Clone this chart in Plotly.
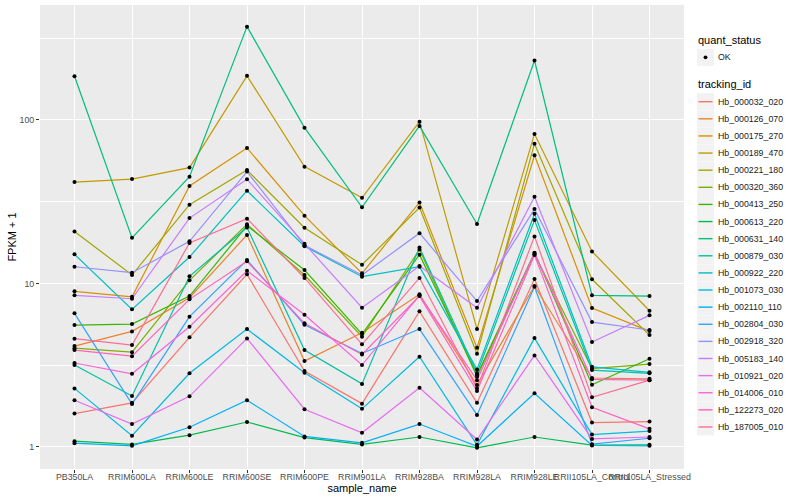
import plotly.graph_objects as go

categories = ["PB350LA", "RRIM600LA", "RRIM600LE", "RRIM600SE", "RRIM600PE",
              "RRIM901LA", "RRIM928BA", "RRIM928LA", "RRIM928LE",
              "RRII105LA_Control", "RRII105LA_Stressed"]

hb_000032_020 = [1.60, 1.86, 4.68, 11.37, 2.91, 1.84, 6.75, 1.86, 10.64, 1.41, 1.43]
hb_000126_070 = [4.14, 5.09, 8.18, 19.8, 3.35, 4.99, 8.58, 2.39, 9.64, 2.64, 2.61]
hb_000175_270 = [8.95, 8.29, 39.5, 67.4, 25.96, 11.53, 31.3, 4.04, 60.8, 7.07, 5.11]
hb_000189_470 = [41.7, 43.5, 51.1, 186, 51.8, 33.4, 97.6, 5.26, 82.1, 15.7, 6.81]
hb_000221_180 = [20.8, 11.26, 30.3, 49.4, 21.9, 13.0, 29.1, 3.71, 71.6, 10.6, 4.83]
hb_000320_360 = [4.02, 3.80, 10.45, 23.0, 11.26, 4.72, 16.1, 2.69, 15.1, 3.01, 3.21]
hb_000413_250 = [5.56, 5.64, 8.37, 22.5, 12.08, 4.90, 15.0, 2.75, 15.4, 2.40, 3.46]
hb_000613_220 = [1.085, 1.036, 1.18, 1.42, 1.14, 1.036, 1.15, 0.987, 1.15, 1.026, 1.03]
hb_000631_140 = [185, 19.0, 45.0, 372, 89.7, 29.2, 91.9, 23.1, 231, 8.46, 8.37]
hb_000879_030 = [3.17, 2.05, 11.05, 22.0, 3.91, 2.43, 16.6, 2.82, 24.4, 2.95, 2.82]
hb_000922_220 = [15.07, 6.94, 14.5, 36.9, 16.9, 11.0, 12.65, 2.98, 26.7, 3.09, 2.86]
hb_001073_030 = [2.28, 1.17, 2.82, 5.26, 2.84, 1.71, 3.56, 1.03, 4.63, 1.19, 1.25]
hb_002110_110 = [1.055, 1.016, 1.32, 1.93, 1.16, 1.06, 1.38, 1.01, 2.13, 1.02, 1.016]
hb_002804_030 = [6.56, 1.83, 6.26, 13.9, 5.59, 3.73, 5.26, 1.57, 9.54, 1.04, 1.13]
hb_002918_320 = [12.65, 11.63, 18.1, 48.3, 17.1, 11.26, 20.3, 7.80, 28.5, 5.80, 5.19]
hb_005183_140 = [8.46, 8.06, 25.1, 43.4, 17.5, 7.10, 12.8, 7.10, 33.9, 4.38, 6.38]
hb_010921_020 = [1.93, 1.38, 2.04, 4.61, 1.70, 1.22, 2.30, 1.11, 3.63, 1.12, 1.15]
hb_014006_010 = [3.26, 2.80, 5.43, 11.96, 6.43, 3.17, 8.46, 2.56, 15.35, 2.59, 2.56]
hb_122273_020 = [3.91, 3.59, 7.99, 13.65, 5.70, 3.68, 8.37, 2.20, 14.9, 1.75, 1.29]
hb_187005_010 = [4.59, 4.20, 17.7, 24.9, 10.8, 4.24, 10.8, 2.28, 19.4, 2.01, 2.56]

tracking_ids = ["Hb_000032_020", "Hb_000126_070", "Hb_000175_270", "Hb_000189_470",
                "Hb_000221_180", "Hb_000320_360", "Hb_000413_250", "Hb_000613_220",
                "Hb_000631_140", "Hb_000879_030", "Hb_000922_220", "Hb_001073_030",
                "Hb_002110_110", "Hb_002804_030", "Hb_002918_320", "Hb_005183_140",
                "Hb_010921_020", "Hb_014006_010", "Hb_122273_020", "Hb_187005_010"]
series = [hb_000032_020, hb_000126_070, hb_000175_270, hb_000189_470, hb_000221_180,
          hb_000320_360, hb_000413_250, hb_000613_220, hb_000631_140, hb_000879_030,
          hb_000922_220, hb_001073_030, hb_002110_110, hb_002804_030, hb_002918_320,
          hb_005183_140, hb_010921_020, hb_014006_010, hb_122273_020, hb_187005_010]
colors = ["#F8766D", "#EA8331", "#D89000", "#C09B00", "#A3A500", "#7CAE00", "#39B600",
          "#00BB4E", "#00BF7D", "#00C1A3", "#00BFC4", "#00BAE0", "#00B0F6", "#35A2FF",
          "#9590FF", "#C77CFF", "#E76BF3", "#FA62DB", "#FF62BC", "#FF6C91"]

FONT = "Liberation Sans, Arial, sans-serif"

# plot panel in pixels (left, right, top, bottom) -> helpers for the hand-drawn legend
PL, PR, PT, PB = 40, 684, 5, 469


def px(x):
    return (x - PL) / (PR - PL)


def py(y):
    return (PB - y) / (PB - PT)


fig = go.Figure()
for name, vals, col in zip(tracking_ids, series, colors):
    fig.add_trace(go.Scatter(x=categories, y=vals, mode="lines", name=name,
                             line=dict(color=col, width=1.2), showlegend=False))

all_x = [c for s in series for c in categories]
all_y = [v for s in series for v in s]
fig.add_trace(go.Scatter(x=all_x, y=all_y, mode="markers", name="OK",
                         marker=dict(color="black", size=4), showlegend=False))

shapes = []
annotations = []
# legend: quant_status
annotations.append(dict(x=px(696), y=py(40), xref="paper", yref="paper", text="quant_status",
                        xanchor="left", yanchor="middle", showarrow=False,
                        font=dict(size=11, family=FONT, color="black")))
ok_y = 57.3
shapes.append(dict(type="rect", xref="paper", yref="paper", x0=px(697), x1=px(714),
                   y0=py(ok_y + 8.5), y1=py(ok_y - 8.5), fillcolor="#F2F2F2", line=dict(width=0),
                   layer="below"))
shapes.append(dict(type="circle", xref="paper", yref="paper", x0=px(703.6), x1=px(707.4),
                   y0=py(ok_y + 1.9), y1=py(ok_y - 1.9), fillcolor="black", line=dict(width=0)))
annotations.append(dict(x=px(715.5), y=py(ok_y), xref="paper", yref="paper", text="OK",
                        xanchor="left", yanchor="middle", showarrow=False,
                        font=dict(size=8.8, family=FONT, color="#1A1A1A")))
# legend: tracking_id
annotations.append(dict(x=px(696), y=py(84.3), xref="paper", yref="paper", text="tracking_id",
                        xanchor="left", yanchor="middle", showarrow=False,
                        font=dict(size=11, family=FONT, color="black")))
for i, (name, col) in enumerate(zip(tracking_ids, colors)):
    cy = 101.7 + 17.12 * i
    shapes.append(dict(type="rect", xref="paper", yref="paper", x0=px(697), x1=px(714),
                       y0=py(cy + 8.5), y1=py(cy - 8.5), fillcolor="#F2F2F2",
                       line=dict(width=0), layer="below"))
    shapes.append(dict(type="line", xref="paper", yref="paper", x0=px(698.5), x1=px(712.5),
                       y0=py(cy), y1=py(cy), line=dict(color=col, width=1.4)))
    annotations.append(dict(x=px(715.5), y=py(cy), xref="paper", yref="paper", text=name,
                            xanchor="left", yanchor="middle", showarrow=False,
                            font=dict(size=8.8, family=FONT, color="#1A1A1A")))

fig.update_layout(
    width=800, height=500,
    margin=dict(l=PL, r=800 - PR, t=PT, b=500 - PB),
    plot_bgcolor="#EBEBEB", paper_bgcolor="white",
    font=dict(family=FONT, color="black"),
    showlegend=False,
    shapes=shapes, annotations=annotations,
    xaxis=dict(type="category", categoryorder="array", categoryarray=categories,
               range=[-0.6, 10.6], showgrid=True, gridcolor="white", gridwidth=1.1,
               zeroline=False, showline=False, ticks="outside", ticklen=3,
               tickcolor="#333333", tickwidth=1, tickangle=0, automargin=False,
               ticklabelstandoff=-4,
               tickfont=dict(size=8.8, color="#4D4D4D", family=FONT),
               title=dict(text="sample_name", font=dict(size=11, family=FONT), standoff=0)),
    yaxis=dict(type="log", range=[-0.135, 2.703], tickvals=[1, 10, 100],
               ticktext=["1", "10", "100"], showgrid=True, gridcolor="white",
               gridwidth=1.1, zeroline=False, showline=False, ticks="outside",
               ticklen=3, tickcolor="#333333", tickwidth=1, automargin=False,
               tickfont=dict(size=8.8, color="#4D4D4D", family=FONT),
               minor=dict(tickvals=[3.1623, 31.623, 316.23], showgrid=True,
                          gridcolor="white", gridwidth=0.5, ticks=""),
               title=dict(text="FPKM + 1", font=dict(size=11, family=FONT), standoff=0)),
)

fig.write_html("out.html", config={"displayModeBar": False},
               post_script="document.body.style.margin='0px';")
